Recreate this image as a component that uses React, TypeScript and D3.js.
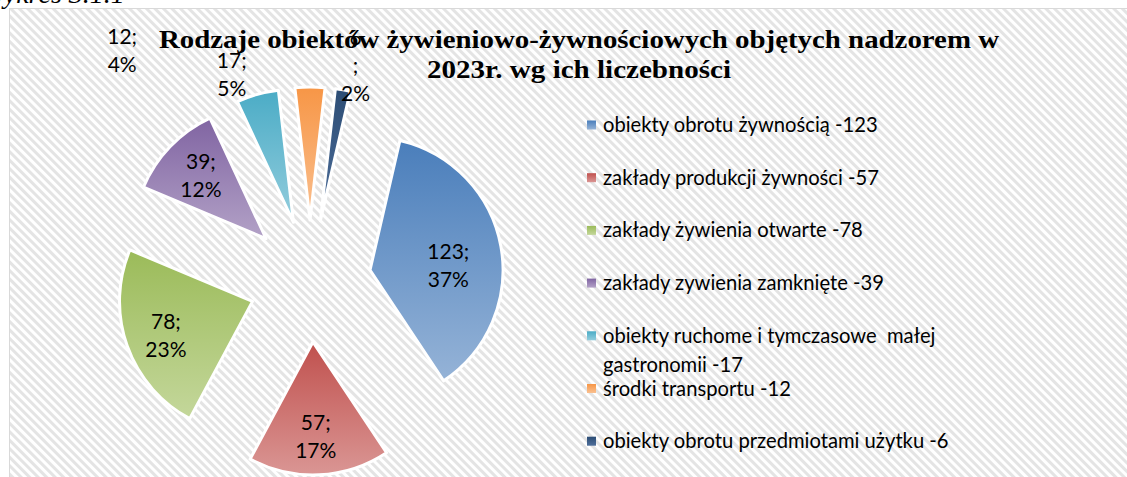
import React from 'react';
import * as d3 from 'd3';

const categories = [
  'obiekty obrotu żywnością -123',
  'zakłady produkcji żywności -57',
  'zakłady żywienia otwarte -78',
  'zakłady zywienia zamknięte -39',
  'obiekty ruchome i tymczasowe  małej\ngastronomii -17',
  'środki transportu -12',
  'obiekty obrotu przedmiotami użytku -6',
];
const values = [123, 57, 78, 39, 17, 12, 6];
const titleLines = [
  'Rodzaje obiektów żywieniowo-żywnościowych objętych nadzorem w',
  '2023r. wg ich liczebności',
];

const colors = [
  ['#4A7EBB', '#95B3D7'],
  ['#C0504D', '#DA9694'],
  ['#9BBB59', '#C4D79B'],
  ['#8064A2', '#B3A2C7'],
  ['#4BACC6', '#93CDDD'],
  ['#F79646', '#FAC090'],
  ['#2C4D75', '#4F6F9B'],
];

// label placement: distance (in radii) from slice apex, angle shift in degrees, wrap style
const labelPlace = [
  { k: 0.59, da: 7, wrap: false },
  { k: 0.71, da: 1, wrap: false },
  { k: 0.7, da: -2, wrap: false },
  { k: 0.68, da: 0, wrap: false },
  { k: 1.2, da: -7, wrap: false },
  { k: 1.9, da: -48, wrap: false },
  { k: 1.2, da: 3, wrap: true },
];

const W = 1127;
const H = 477;
const cx = 310;
const cy = 281;
const radius = 133;
const explode = 61;
const rotation = (13 * Math.PI) / 180;
const font = 'Lato, "Open Sans", sans-serif';
const titleWidths = [840, 304];

export default function App() {
  const total = d3.sum(values);
  const pie = d3
    .pie<number>()
    .sort(null)
    .startAngle(rotation)
    .endAngle(rotation + 2 * Math.PI);
  const arcs = pie(values);
  const arc = d3.arc<d3.PieArcDatum<number>>().innerRadius(0).outerRadius(radius);
  const legendY = d3.scaleLinear().domain([0, 1]).range([125, 177.7]);

  return (
    <div style={{ position: 'absolute', left: 0, top: 0 }}>
      <svg width={W} height={H} style={{ display: 'block' }}>
        <defs>
          <pattern
            id="stripes"
            width={6}
            height={6}
            patternUnits="userSpaceOnUse"
            patternTransform="rotate(-45)"
          >
            <rect width={6} height={6} fill="#ffffff" />
            <rect width={3} height={6} fill="#e4e4e4" />
          </pattern>
          {colors.map((c, i) => (
            <linearGradient key={i} id={`g${i}`} x1="0" y1="0" x2="0" y2="1">
              <stop offset="0%" stopColor={c[0]} />
              <stop offset="100%" stopColor={c[1]} />
            </linearGradient>
          ))}
        </defs>
        <rect width={W} height={H} fill="#fff" />
        <text
          x={-17}
          y={3}
          fontFamily='"Liberation Serif", serif'
          fontStyle="italic"
          fontSize={28}
          fill="#000"
        >
          Wykres 3.1.1
        </text>
        <rect x={9.5} y={8.5} width={W + 10} height={H + 10} fill="url(#stripes)" stroke="#d9d9d9" />

        {/* title */}
        {titleLines.map((t, i) => (
          <text
            key={i}
            x={579}
            y={48 + i * 30}
            textAnchor="middle"
            fontFamily='"Liberation Serif", serif'
            fontWeight="bold"
            fontSize={26}
            textLength={titleWidths[i]}
            lengthAdjust="spacingAndGlyphs"
            fill="#000"
          >
            {t}
          </text>
        ))}

        {/* slices */}
        {arcs.map((a, i) => {
          const mid = (a.startAngle + a.endAngle) / 2;
          const ox = explode * Math.sin(mid);
          const oy = -explode * Math.cos(mid);
          return (
            <path
              key={i}
              d={arc(a) || ''}
              transform={`translate(${cx + ox},${cy + oy})`}
              fill={`url(#g${i})`}
              stroke="#fff"
              strokeWidth={3}
              strokeLinejoin="round"
            />
          );
        })}

        {/* data labels */}
        {arcs.map((a, i) => {
          const mid = (a.startAngle + a.endAngle) / 2;
          const px = cx + explode * Math.sin(mid);
          const py = cy - explode * Math.cos(mid);
          const p = labelPlace[i];
          const ang = mid + (p.da * Math.PI) / 180;
          const lx = px + p.k * radius * Math.sin(ang);
          const ly = py - p.k * radius * Math.cos(ang);
          const pct = Math.round((values[i] / total) * 100);
          const lines = p.wrap ? [`${values[i]}`, ';', `${pct}%`] : [`${values[i]};`, `${pct}%`];
          return (
            <g key={i}>
              {lines.map((l, j) => (
                <text
                  key={j}
                  x={lx}
                  y={ly + (j - (lines.length - 1) / 2) * 28}
                  dy="0.35em"
                  textAnchor="middle"
                  fontFamily={font}
                  fontSize={21}
                  fill="#000"
                >
                  {l}
                </text>
              ))}
            </g>
          );
        })}

        {/* legend */}
        {categories.map((c, i) => {
          const y = legendY(i);
          return (
            <g key={i}>
              <rect x={587} y={y - 4.5} width={9} height={9} fill={`url(#g${i})`} />
              {c.split('\n').map((l, j) => (
                <text
                  key={j}
                  x={603}
                  y={y + j * 29}
                  dy="0.35em"
                  fontFamily={font}
                  fontSize={20.2}
                  fill="#000"
                  style={{ whiteSpace: 'pre' }}
                >
                  {l}
                </text>
              ))}
            </g>
          );
        })}
      </svg>
    </div>
  );
}
